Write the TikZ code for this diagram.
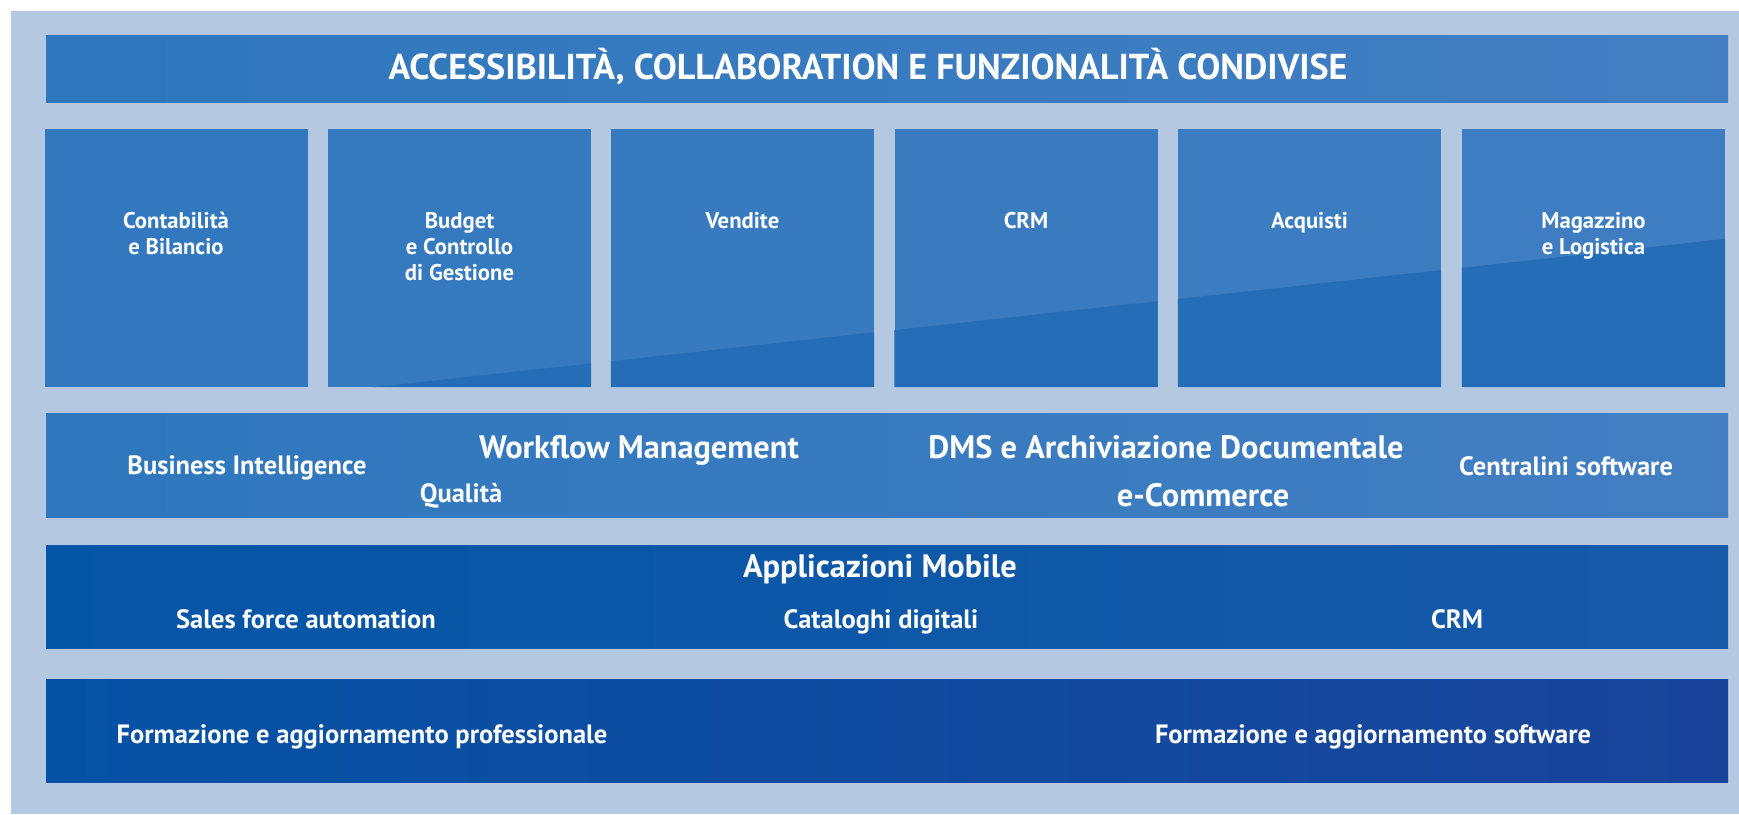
\documentclass[tikz,border=0pt]{standalone}
\usepackage{fontspec}
\setmainfont{PT Sans}
\usetikzlibrary{positioning}
\definecolor{pagebg}{RGB}{181,200,226}
\definecolor{barleft}{RGB}{46,119,189}
\definecolor{barright}{RGB}{67,126,194}
\definecolor{boxleft}{RGB}{50,120,190}
\definecolor{boxright}{RGB}{63,125,194}
\definecolor{boxdark}{RGB}{37,109,183}
\definecolor{mobleft}{RGB}{5,85,166}
\definecolor{mobright}{RGB}{23,90,170}
\definecolor{trainleft}{RGB}{5,82,165}
\definecolor{trainright}{RGB}{26,68,155}
\tikzset{
  layerbar/.style={inner sep=0pt, minimum width=1682pt, minimum height=#1},
  modbox/.style={inner sep=0pt, minimum width=263pt, minimum height=258pt, fill=#1},
  lbl/.style={text=white, inner sep=0pt, anchor=base},
  modlbl/.style={lbl, align=center, font=\fontsize{22.7}{26}\selectfont\bfseries},
  smalllbl/.style={lbl, font=\fontsize{26.5}{30}\selectfont\bfseries},
  biglbl/.style={lbl, font=\fontsize{32.4}{36}\selectfont\bfseries}
}

\begin{document}
\begin{tikzpicture}[x=1pt,y=-1pt]
\useasboundingbox (0,0) rectangle (1739,814);
\fill[white] (0,0) rectangle (1739,814);
\fill[pagebg] (11,11) rectangle (1739,814);

\node[layerbar=67pt, left color=barleft, right color=barright] (titlebar) at (887,68.5) {};
\node[layerbar=104pt, left color=barleft, right color=barright] (toolbar) at (887,465) {};
\node[layerbar=103pt, left color=mobleft, right color=mobright] (mobilebar) at (887,596.5) {};
\node[layerbar=103pt, left color=trainleft, right color=trainright] (trainbar) at (887,730.5) {};

\node[modbox=boxleft] (contab) at (176,258) {};
\node[modbox=boxright!20!boxleft] (budget) at (459.5,258) {};
\node[modbox=boxright!40!boxleft] (vendite) at (742.5,258) {};
\node[modbox=boxright!60!boxleft] (crm) at (1026,258) {};
\node[modbox=boxright!80!boxleft] (acquisti) at (1309.5,258) {};
\node[modbox=boxright] (magazzino) at (1593.5,258) {};

% darker lower part of the modules
\begin{scope}
\clip (contab.north west) rectangle (contab.south east)
  (budget.north west) rectangle (budget.south east)
  (vendite.north west) rectangle (vendite.south east)
  (crm.north west) rectangle (crm.south east)
  (acquisti.north west) rectangle (acquisti.south east)
  (magazzino.north west) rectangle (magazzino.south east);
\fill[boxdark] (300,395.3) -- (1730,238.4) -- (1730,400) -- (300,400) -- cycle;
\end{scope}

\node[lbl, font=\fontsize{36}{40}\selectfont\bfseries] (title) at (868,79) {ACCESSIBILITÀ, COLLABORATION E FUNZIONALITÀ CONDIVISE};

% base of a multi-line label is its last line
\node[modlbl] (contablbl) at ([yshift=-126pt]contab.north) {Contabilità\\e Bilancio};
\node[modlbl] (budgetlbl) at ([yshift=-152pt]budget.north) {Budget\\e Controllo\\di Gestione};
\node[modlbl] (venditelbl) at ([yshift=-100pt]vendite.north) {Vendite};
\node[modlbl] (crmlbl) at ([yshift=-100pt]crm.north) {CRM};
\node[modlbl] (acquistilbl) at ([yshift=-100pt]acquisti.north) {Acquisti};
\node[modlbl] (magazzinolbl) at ([yshift=-126pt]magazzino.north) {Magazzino\\e Logistica};

\node[smalllbl] (bi) at (247,474.5) {Business Intelligence};
\node[biglbl] (workflow) at (639,458) {Workflow Management};
\node[smalllbl] (qualita) at (461,502) {Qualità};
\node[biglbl] (dms) at (1166,458) {DMS e Archiviazione Documentale};
\node[biglbl] (ecommerce) at (1203,506) {e-Commerce};
\node[smalllbl] (centralini) at (1566,475) {Centralini software};

\node[biglbl] (mobile) at (880,577) {Applicazioni Mobile};
\node[smalllbl] (sfa) at (306,628) {Sales force automation};
\node[smalllbl] (cataloghi) at (881,628) {Cataloghi digitali};
\node[smalllbl] (crmmobile) at (1457,628) {CRM};

\node[smalllbl] (formprof) at (362,743) {Formazione e aggiornamento professionale};
\node[smalllbl] (formsw) at (1373,743) {Formazione e aggiornamento software};
\end{tikzpicture}
\end{document}
